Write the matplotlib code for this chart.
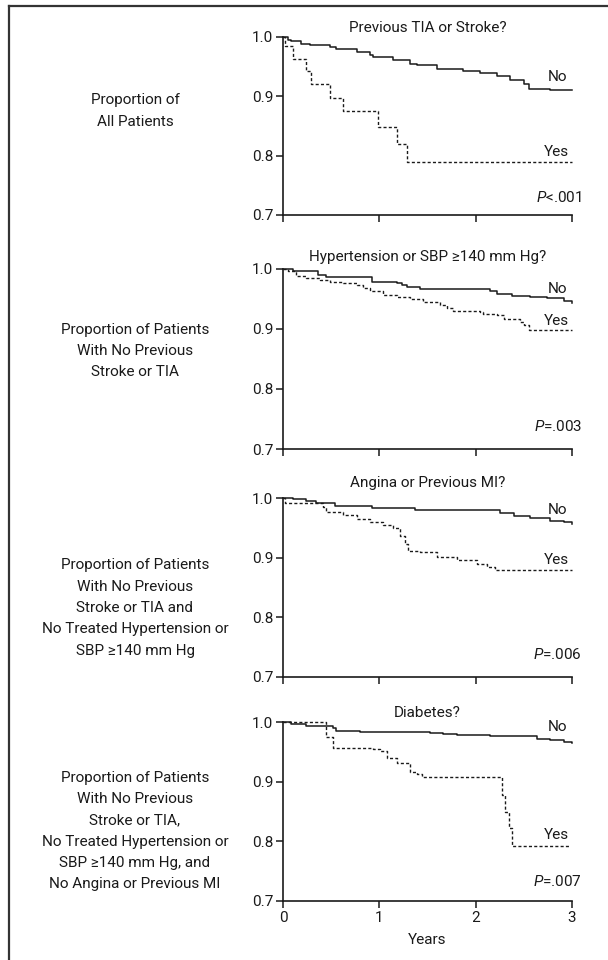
import matplotlib
matplotlib.use("Agg")
import matplotlib.pyplot as plt
from matplotlib.lines import Line2D
from matplotlib import font_manager

avail = {f.name for f in font_manager.fontManager.ttflist}
BASE = 'Liberation Sans Narrow' if 'Liberation Sans Narrow' in avail else 'Roboto'
FONT = [BASE, 'DejaVu Sans']
plt.rcParams['font.family'] = FONT
plt.rcParams['mathtext.fontset'] = 'custom'
plt.rcParams['mathtext.rm'] = BASE
plt.rcParams['mathtext.it'] = BASE + ':italic'

# ---- data ----
titles = ["Previous TIA or Stroke?", "Hypertension or SBP \u2265140 mm Hg?",
          "Angina or Previous MI?", "Diabetes?"]
row_labels = ["Proportion of\nAll Patients",
              "Proportion of Patients\nWith No Previous\nStroke or TIA",
              "Proportion of Patients\nWith No Previous\nStroke or TIA and\nNo Treated Hypertension or\nSBP \u2265140 mm Hg",
              "Proportion of Patients\nWith No Previous\nStroke or TIA,\nNo Treated Hypertension or\nSBP \u2265140 mm Hg, and\nNo Angina or Previous MI"]
p_labels = ["$P$<.001", "$P$=.003", "$P$=.006", "$P$=.007"]

no1_t = [0, 0.05, 0.087, 0.19, 0.277, 0.486, 0.555, 0.763, 0.902, 0.937, 1.145, 1.318, 1.387,
         1.595, 1.873, 2.046, 2.22, 2.359, 2.497, 2.549, 2.775, 3.0]
no1_s = [1.0, 0.995, 0.993, 0.988, 0.987, 0.983, 0.979, 0.974, 0.970, 0.966, 0.961, 0.955, 0.952,
         0.946, 0.942, 0.940, 0.935, 0.928, 0.920, 0.912, 0.911, 0.910]
yes1_t = [0, 0.017, 0.104, 0.243, 0.295, 0.486, 0.624, 0.989, 1.179, 1.283, 3.0]
yes1_s = [1.0, 0.984, 0.963, 0.943, 0.921, 0.898, 0.876, 0.849, 0.820, 0.790, 0.790]

no2_t = [0, 0.104, 0.364, 0.451, 0.919, 1.179, 1.231, 1.283, 1.422, 2.150, 2.220, 2.376, 2.567,
         2.740, 2.914, 3.0]
no2_s = [1.0, 0.996, 0.990, 0.986, 0.979, 0.977, 0.973, 0.970, 0.967, 0.963, 0.959, 0.955, 0.954,
         0.951, 0.947, 0.944]
yes2_t = [0, 0.052, 0.139, 0.243, 0.382, 0.486, 0.624, 0.763, 0.832, 0.902, 1.041, 1.179, 1.318,
          1.457, 1.630, 1.700, 1.769, 2.046, 2.081, 2.220, 2.289, 2.463, 2.497, 2.549, 3.0]
yes2_s = [1.0, 0.996, 0.989, 0.985, 0.982, 0.979, 0.976, 0.973, 0.968, 0.963, 0.957, 0.954, 0.950,
          0.945, 0.940, 0.935, 0.930, 0.928, 0.925, 0.923, 0.917, 0.911, 0.907, 0.899, 0.899]

no3_t = [0, 0.104, 0.243, 0.347, 0.451, 0.538, 0.919, 1.370, 2.255, 2.393, 2.567, 2.775, 2.914, 3.0]
no3_s = [1.0, 0.998, 0.995, 0.992, 0.991, 0.987, 0.984, 0.980, 0.975, 0.969, 0.966, 0.962, 0.960,
         0.957]
yes3_t = [0, 0.017, 0.416, 0.451, 0.624, 0.763, 0.902, 1.041, 1.145, 1.214, 1.266, 1.301, 1.422,
          1.596, 1.804, 2.012, 2.116, 2.203, 3.0]
yes3_s = [1.0, 0.991, 0.985, 0.977, 0.971, 0.965, 0.960, 0.954, 0.949, 0.937, 0.923, 0.911, 0.909,
          0.901, 0.896, 0.889, 0.884, 0.879, 0.879]

no4_t = [0, 0.087, 0.243, 0.520, 0.555, 0.798, 1.526, 1.665, 1.804, 2.150, 2.428, 2.636, 2.775,
         2.914, 3.0]
no4_s = [1.0, 0.997, 0.994, 0.990, 0.985, 0.983, 0.982, 0.980, 0.979, 0.976, 0.976, 0.972, 0.969,
         0.966, 0.965]
yes4_t = [0, 0.416, 0.451, 0.520, 0.937, 1.006, 1.075, 1.179, 1.318, 1.387, 1.439, 2.255, 2.272,
          2.307, 2.341, 2.376, 2.983]
yes4_s = [1.0, 1.0, 0.975, 0.957, 0.955, 0.952, 0.940, 0.931, 0.917, 0.913, 0.908, 0.908, 0.878,
          0.850, 0.822, 0.793, 0.793]

no_series = [(no1_t, no1_s), (no2_t, no2_s), (no3_t, no3_s), (no4_t, no4_s)]
yes_series = [(yes1_t, yes1_s), (yes2_t, yes2_s), (yes3_t, yes3_s), (yes4_t, yes4_s)]
no_label_y = [0.9325, 0.967, 0.980, 0.992]
yes_label_y = [0.806, 0.913, 0.896, 0.811]
p_label_y = [0.730, 0.738, 0.737, 0.732]

x_ticks = [0, 1, 2, 3]
y_ticks = [0.7, 0.8, 0.9, 1.0]

# ---- layout ----
W, H = 608, 960
fig = plt.figure(figsize=(W / 100, H / 100), dpi=100)
panel_px = [(37, 215), (269, 449), (498, 677), (722, 901)]
title_px = [28, 257, 483, 713]
label_center_px = [111, 351, 608, 831]
x0_px, x1_px = 283, 572
FS = 11
ink = '#1a1a1a'

for i in range(4):
    top, bot = panel_px[i]
    ax = fig.add_axes([x0_px / W, 1 - bot / H, (x1_px - x0_px) / W, (bot - top) / H])
    ax.set_xlim(0, 3)
    ax.set_ylim(0.7, 1.0)
    for s in ['top', 'right']:
        ax.spines[s].set_visible(False)
    for s in ['left', 'bottom']:
        ax.spines[s].set_linewidth(1.2)
        ax.spines[s].set_color(ink)
    ax.set_xticks(x_ticks)
    ax.set_yticks(y_ticks)
    ax.set_yticklabels([f"{v:.1f}" for v in y_ticks], fontsize=FS, color=ink)
    if i == 3:
        ax.set_xticklabels([str(v) for v in x_ticks], fontsize=FS, color=ink)
        ax.set_xlabel("Years", fontsize=FS, color=ink, labelpad=6)
    else:
        ax.set_xticklabels([])
    ax.tick_params(direction='out', length=5, width=1.1, color=ink, pad=2)

    t, s = no_series[i]
    ax.step(t, s, where='post', color=ink, lw=1.1, clip_on=False)
    t, s = yes_series[i]
    ax.step(t, s, where='post', color=ink, lw=1.0, linestyle=(0, (2.2, 1.6)), clip_on=False)

    ax.text(2.95, no_label_y[i], "No", ha='right', va='center', fontsize=FS, color=ink)
    ax.text(2.97, yes_label_y[i], "Yes", ha='right', va='center', fontsize=FS, color=ink)
    ax.text(3.105, p_label_y[i], p_labels[i], ha='right', va='center', fontsize=FS, color=ink)

    fig.text(0.5 * (x0_px + x1_px) / W, 1 - title_px[i] / H, titles[i], ha='center', va='center',
             fontsize=FS, color=ink)
    fig.text(135 / W, 1 - label_center_px[i] / H, row_labels[i], ha='center', va='center',
             fontsize=FS, color=ink, linespacing=1.66, multialignment='center')

# outer frame (top and left only)
fig.add_artist(Line2D([8.5 / W, 1.0], [1 - 5.5 / H, 1 - 5.5 / H], color='#333333', lw=1.6,
                      transform=fig.transFigure))
fig.add_artist(Line2D([8.5 / W, 8.5 / W], [0.0, 1 - 5.5 / H], color='#333333', lw=1.6,
                      transform=fig.transFigure))

fig.savefig("out.png", dpi=100)
